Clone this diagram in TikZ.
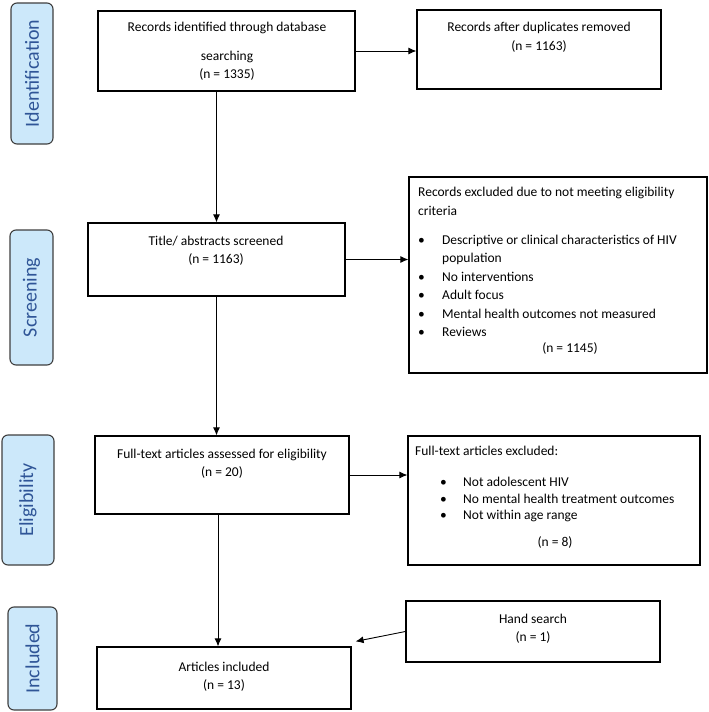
\documentclass[tikz,border=0pt]{standalone}
\usepackage{fontspec}
\setmainfont{Carlito}
\usetikzlibrary{arrows.meta,positioning,calc,fit}
\definecolor{phasefill}{HTML}{CCE8FA}
\definecolor{phaseline}{HTML}{3F3F3F}
\definecolor{phasetext}{HTML}{2F5597}

\begin{document}
\begin{tikzpicture}[x=1pt, y=-1pt,
    phase/.style={draw=phaseline, fill=phasefill, line width=1.1pt, rounded corners=6pt,
        rotate=90, inner sep=0pt, text=phasetext, font=\fontsize{20}{24}\selectfont},
    box/.style={draw, line width=1.2pt, inner sep=0pt},
    txt/.style={align=center, inner sep=0pt, font=\fontsize{13.5}{18.5}\selectfont},
    lst/.style={anchor=north west, inner sep=0pt},
    arr/.style={-{Latex[length=8pt,width=7pt]}, line width=0.9pt}]
    \useasboundingbox (0,0) rectangle (709,712);
    % 绘制阶段标签(竖排)
    \foreach \nm/\lab/\xa/\ya/\xb/\yb in {idf/Identification/11/3/53/144,
        scn/Screening/10/230/53/365, elg/Eligibility/2/435/54/565,
        inc/Included/8/607/57/710} {
        \node[phase, minimum width={\yb-\ya}, minimum height={\xb-\xa}]
            (\nm) at ({(\xa+\xb)/2},{(\ya+\yb)/2}) {\lab};
    }
    % 绘制方框
    \foreach \nm/\xa/\ya/\xb/\yb in {rec/98/11/355/91, dup/417/10/661/89,
        scr/88/223/345/296, exc/409/177/707/373, full/95/436/349/514,
        fexc/408/436/700/565, art/97/647/351/709, hand/406/601/660/662} {
        \node[box, fit={(\xa,\ya) (\xb,\yb)}] (\nm) {};
    }
    % 方框文字
    \node[txt] (recT) at (227,51) {Records identified through database\\[10.5pt] searching\\ (n = 1335)};
    \node[txt] (dupT) at (539,37) {Records after duplicates removed\\ (n = 1163)};
    \node[txt] (scrT) at (216,250.5) {Title/ abstracts screened\\ (n = 1163)};
    \node[txt] (fullT) at (222,463.5) {Full-text articles assessed for eligibility\\ (n = 20)};
    \node[txt] (artT) at (224,676.5) {Articles included\\ (n = 13)};
    \node[txt] (handT) at (533,628.5) {Hand search\\ (n = 1)};
    \node[lst, font=\fontsize{13.5}{18.5}\selectfont] (excT) at (418,183.5) {%
        \begin{tabular}{@{}p{24pt}@{}l@{}}
        \multicolumn{2}{@{}l@{}}{Records excluded due to not meeting eligibility}\\
        \multicolumn{2}{@{}l@{}}{criteria}\\[10.5pt]
        \textbullet & Descriptive or clinical characteristics of HIV\\
         & population\\
        \textbullet & No interventions\\
        \textbullet & Adult focus\\
        \textbullet & Mental health outcomes not measured\\
        \textbullet & Reviews
        \end{tabular}};
    \node[txt] (excN) at (570,348) {(n = 1145)};
    \node[lst, font=\fontsize{13.5}{16.5}\selectfont] (fexcT) at (415,444) {%
        \begin{tabular}{@{}p{25pt}@{}p{23pt}@{}l@{}}
        \multicolumn{3}{@{}l@{}}{Full-text articles excluded:}\\[14.5pt]
         & \textbullet & Not adolescent HIV\\
         & \textbullet & No mental health treatment outcomes\\
         & \textbullet & Not within age range
        \end{tabular}};
    \node[txt] (fexcN) at (555,542) {(n = 8)};
    % 绘制连接箭头
    \draw[arr] (rec.east) -- (rec.east -| dup.west);
    \draw[arr] (rec.south -| scr.north) -- (scr.north);
    \draw[arr] (scr.east) -- (scr.east -| exc.west);
    \draw[arr] (scr.south) -- (scr.south |- full.north);
    \draw[arr] (full.east) -- (full.east -| fexc.west);
    \draw[arr] ([xshift=-4pt]full.south) -- ([xshift=-4pt]full.south |- art.north);
    \coordinate (artIn) at ([xshift=4pt,yshift=5pt]art.north east);
    \draw[arr] (hand.west) -- (artIn);
\end{tikzpicture}
\end{document}
